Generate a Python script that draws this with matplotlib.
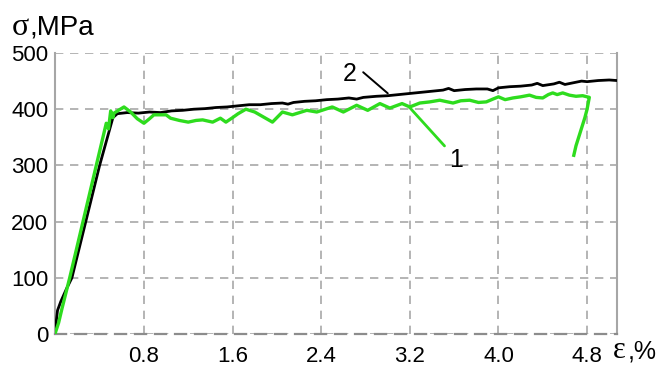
"""Stress-strain curves of two specimens (1 - green, 2 - black)."""

import matplotlib

matplotlib.use("Agg")
import matplotlib.pyplot as plt

# curve 1 (green)
strain_1 = [0.00, 0.03, 0.06, 0.13, 0.25, 0.37, 0.43, 0.46, 0.48, 0.50, 0.52, 0.53,
            0.57, 0.62, 0.68, 0.74, 0.80, 0.85, 0.89, 1.00, 1.04, 1.12, 1.20, 1.27,
            1.33, 1.42, 1.49, 1.54, 1.60, 1.65, 1.72, 1.80, 1.88, 1.96, 2.05, 2.14,
            2.27, 2.36, 2.50, 2.60, 2.72, 2.82, 2.93, 3.02, 3.13, 3.20, 3.29, 3.38,
            3.47, 3.59, 3.66, 3.74, 3.82, 3.89, 3.95, 4.00, 4.06, 4.13, 4.20, 4.28,
            4.34, 4.40, 4.45, 4.49, 4.53, 4.58, 4.64, 4.70, 4.76, 4.80, 4.82, 4.80,
            4.78, 4.74, 4.70, 4.68]
stress_1 = [2, 20, 45, 100, 200, 300, 350, 375, 365, 397, 385, 393,
            398, 404, 395, 383, 375, 383, 390, 390, 384, 380, 377, 380,
            381, 377, 384, 377, 385, 392, 400, 395, 386, 377, 395, 390,
            398, 395, 404, 395, 407, 398, 410, 402, 410, 404, 411, 413,
            416, 411, 415, 416, 412, 413, 418, 422, 417, 420, 422, 425,
            421, 420, 426, 429, 426, 429, 425, 423, 424, 422, 421, 400,
            385, 360, 335, 318]

# curve 2 (black)
strain_2 = [0.00, 0.02, 0.05, 0.10, 0.15, 0.275, 0.40, 0.52, 0.56, 0.65, 0.75, 0.85,
            0.95, 1.05, 1.15, 1.25, 1.35, 1.45, 1.55, 1.65, 1.75, 1.85, 1.95, 2.05,
            2.10, 2.15, 2.25, 2.35, 2.45, 2.55, 2.65, 2.72, 2.78, 2.90, 3.00, 3.10,
            3.20, 3.30, 3.40, 3.50, 3.55, 3.60, 3.70, 3.80, 3.90, 3.95, 4.00, 4.10,
            4.20, 4.30, 4.35, 4.40, 4.50, 4.55, 4.60, 4.70, 4.75, 4.80, 4.90, 5.00,
            5.07]
stress_2 = [8, 42, 58, 80, 100, 200, 300, 385, 392, 394, 393, 395,
            394, 397, 398, 400, 401, 403, 404, 406, 408, 408, 410, 411,
            409, 412, 414, 415, 417, 418, 420, 418, 421, 423, 424, 426,
            428, 430, 432, 434, 437, 433, 435, 436, 436, 433, 438, 440,
            441, 443, 446, 442, 445, 448, 444, 448, 450, 449, 451, 452,
            451]

x_ticks = [0.8, 1.6, 2.4, 3.2, 4.0, 4.8]
x_tick_labels = ["0.8", "1.6", "2.4", "3.2", "4.0", "4.8"]
y_ticks = [0, 100, 200, 300, 400, 500]

W, H = 670, 367
SANS = "Liberation Sans"
SERIF = "Liberation Serif"
GREEN = "#2edc1e"

fig = plt.figure(figsize=(W / 100, H / 100), dpi=100)
ax = fig.add_axes([55.3 / W, 1 - 334 / H, (617 - 55.3) / W, (334 - 53) / H])

ax.plot(strain_2, stress_2, color="black", lw=2.0, zorder=3)
ax.plot(strain_1, stress_1, color=GREEN, lw=2.4, zorder=4)

ax.set_xlim(0, 5.07)
ax.set_ylim(0, 500)
ax.set_xticks(x_ticks)
ax.set_xticklabels(x_tick_labels)
ax.set_yticks(y_ticks)
ax.tick_params(length=0, labelsize=16, pad=5)
ax.tick_params(axis="x", pad=9)
for lab in ax.get_xticklabels() + ax.get_yticklabels():
    lab.set_fontfamily(SANS)

ax.grid(True, color="#a8a8a8", linestyle=(0, (5, 4)), lw=1.2)
ax.set_axisbelow(True)
for side in ("left", "right"):
    ax.spines[side].set_color("#a6a6a6")
    ax.spines[side].set_linewidth(1.5)
ax.spines["top"].set_visible(False)
ax.spines["bottom"].set_color("#8c8c8c")
ax.spines["bottom"].set_linestyle((0, (5, 4)))
ax.spines["bottom"].set_linewidth(1.6)

# curve labels with leader lines
ax.annotate("", xy=(3.02, 425), xytext=(2.76, 469),
            arrowprops=dict(arrowstyle="-", color="black", lw=1.4))
ax.text(2.66, 462, "2", fontsize=18, fontfamily=SANS, ha="center", va="center")
ax.annotate("", xy=(3.18, 407), xytext=(3.53, 331),
            arrowprops=dict(arrowstyle="-", color=GREEN, lw=2.0))
ax.text(3.62, 310, "1", fontsize=18, fontfamily=SANS, ha="center", va="center")

# axis titles: greek letter in serif, rest in sans
fig.text(12 / W, 1 - 35 / H, "σ", fontsize=23, fontfamily=SERIF, va="baseline")
fig.text(29 / W, 1 - 35 / H, ",MPa", fontsize=20, fontfamily=SANS, va="baseline")
fig.text(613 / W, 1 - 358 / H, "ε", fontsize=22, fontfamily=SERIF, va="baseline")
fig.text(628 / W, 1 - 358 / H, ",%", fontsize=18, fontfamily=SANS, va="baseline")

fig.savefig("out.png", dpi=100)
